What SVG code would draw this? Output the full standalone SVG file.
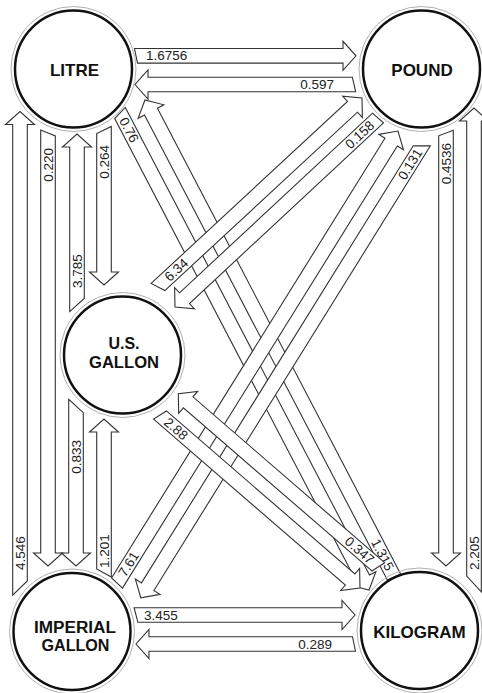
<svg xmlns="http://www.w3.org/2000/svg" width="482" height="693" viewBox="0 0 482 693">
<style>
.a{fill:#fff;stroke:#333;stroke-width:1.1;stroke-linejoin:miter}
.t{font-family:"Liberation Sans",Arial,sans-serif;font-size:13.5px;fill:#222;dominant-baseline:central}
.ring{fill:none;stroke:#b0b0b0;stroke-width:1}
.c{fill:#fff;stroke:#111;stroke-width:2.5}
.nl{font-family:"Liberation Sans",Arial,sans-serif;font-size:17px;font-weight:bold;fill:#111;text-anchor:middle}
.n2{font-size:16px}
</style>
<rect width="482" height="693" fill="#fff"/>
<g id="connectors">
<g transform="translate(136,55.8)"><polygon class="a" points="-1.5,-7.3 207,-7.3 207,-14.5 220,0 207,14.5 207,7.3 1.5,7.3"/><text class="t" x="10" y="0">1.6756</text></g>
<g transform="translate(354,84.5) rotate(180)"><polygon class="a" points="-1.7,-7.3 206,-7.3 206,-14.5 219,0 206,14.5 206,7.3 1.7,7.3"/><text class="t" transform="translate(20,0) rotate(180)" text-anchor="end">0.597</text></g>
<g transform="translate(136,615)"><polygon class="a" points="-1.9,-7.3 206,-7.3 206,-14.5 219,0 206,14.5 206,7.3 1.9,7.3"/><text class="t" transform="translate(8,0)">3.455</text></g>
<g transform="translate(354,644) rotate(180)"><polygon class="a" points="-1.5,-7.3 205,-7.3 205,-14.5 218,0 205,14.5 205,7.3 1.5,7.3"/><text class="t" transform="translate(22,0) rotate(180)" text-anchor="end">0.289</text></g>
<g transform="translate(20,588) rotate(-90)"><polygon class="a" points="-7.1,-7.3 463.5,-7.3 463.5,-14.5 476.5,0 463.5,14.5 463.5,7.3 7.1,7.3"/><text class="t" x="18" y="0">4.546</text></g>
<g transform="translate(48,133) rotate(90)"><polygon class="a" points="2.9,-7.3 420,-7.3 420,-14.5 433,0 420,14.5 420,7.3 -2.9,7.3"/><text class="t" transform="translate(15,0) rotate(180)" text-anchor="end">0.220</text></g>
<g transform="translate(77,305) rotate(-90)"><polygon class="a" points="-6.6,-7.3 158,-7.3 158,-14.5 171,0 158,14.5 158,7.3 6.6,7.3"/><text class="t" x="17" y="0">3.785</text></g>
<g transform="translate(104,130) rotate(90)"><polygon class="a" points="-3.6,-7.3 142,-7.3 142,-14.5 155,0 142,14.5 142,7.3 3.6,7.3"/><text class="t" transform="translate(15,0) rotate(180)" text-anchor="end">0.264</text></g>
<g transform="translate(76,406) rotate(90)"><polygon class="a" points="6.7,-7.3 147,-7.3 147,-14.5 160,0 147,14.5 147,7.3 -6.7,7.3"/><text class="t" transform="translate(34,0) rotate(180)" text-anchor="end">0.833</text></g>
<g transform="translate(104,573) rotate(-90)"><polygon class="a" points="4,-7.3 141,-7.3 141,-14.5 154,0 141,14.5 141,7.3 -4,7.3"/><text class="t" x="5" y="0">1.201</text></g>
<g transform="translate(446,133) rotate(90)"><polygon class="a" points="-2.8,-7.3 420,-7.3 420,-14.5 433,0 420,14.5 420,7.3 2.8,7.3"/><text class="t" transform="translate(10,0) rotate(180)" text-anchor="end">0.4536</text></g>
<g transform="translate(474,584) rotate(-90)"><polygon class="a" points="7.9,-7.3 463,-7.3 463,-14.5 476,0 463,14.5 463,7.3 -7.9,7.3"/><text class="t" x="14" y="0">2.205</text></g>
<g transform="translate(120,113) rotate(62.43)"><polygon class="a" points="-2.5,-7.3 525.1,-7.3 525.1,-14.5 538.1,0 525.1,14.5 525.1,7.3 2.5,7.3"/><text class="t" x="6" y="0">0.76</text></g>
<g transform="translate(394,577) rotate(-117.57)"><polygon class="a" points="0.3,-7.3 525.1,-7.3 525.1,-14.5 538.1,0 525.1,14.5 525.1,7.3 -0.3,7.3"/><text class="t" transform="translate(8,0) rotate(180)" text-anchor="end">1.315</text></g>
<g transform="translate(378,118) rotate(137.04)"><polygon class="a" points="-0.7,-7.3 264.4,-7.3 264.4,-14.5 277.4,0 264.4,14.5 264.4,7.3 0.7,7.3"/><text class="t" transform="translate(8,0) rotate(180)" text-anchor="end">0.158</text></g>
<g transform="translate(158,287) rotate(-42.81)"><polygon class="a" points="-2.6,-7.3 265.1,-7.3 265.1,-14.5 278.1,0 265.1,14.5 265.1,7.3 2.6,7.3"/><text class="t" x="12" y="0">6.34</text></g>
<g transform="translate(421.8,145.8) rotate(121.87)"><polygon class="a" points="-4.5,-7.3 519.2,-7.3 519.2,-14.5 532.2,0 519.2,14.5 519.2,7.3 4.5,7.3"/><text class="t" transform="translate(5,0) rotate(180)" text-anchor="end">0.131</text></g>
<g transform="translate(117,583) rotate(-58.13)"><polygon class="a" points="1.4,-7.3 519.2,-7.3 519.2,-14.5 532.2,0 519.2,14.5 519.2,7.3 -1.4,7.3"/><text class="t" x="9" y="0">7.61</text></g>
<g transform="translate(160,415) rotate(40.86)"><polygon class="a" points="2.2,-7.3 251.4,-7.3 251.4,-14.5 264.4,0 251.4,14.5 251.4,7.3 -2.2,7.3"/><text class="t" x="8" y="0">2.88</text></g>
<g transform="translate(378.3,566.8) rotate(-139.14)"><polygon class="a" points="2.1,-7.3 251.4,-7.3 251.4,-14.5 264.4,0 251.4,14.5 251.4,7.3 -2.1,7.3"/><text class="t" transform="translate(8,0) rotate(180)" text-anchor="end">0.347</text></g>
</g>
<g id="litre"><circle class="ring" cx="73.5" cy="69" r="62.5"/><circle class="c" cx="73.5" cy="69" r="58.5"/><text class="nl" x="74.5" y="75.5">LITRE</text></g>
<g id="pound"><circle class="ring" cx="421.5" cy="69" r="62.5"/><circle class="c" cx="421.5" cy="69" r="58.5"/><text class="nl" x="422" y="75.5">POUND</text></g>
<g id="us-gallon"><circle class="ring" cx="122.5" cy="355" r="62.5"/><circle class="c" cx="122.5" cy="355" r="58.5"/><text class="nl n2" x="124" y="349">U.S.</text><text class="nl n2" x="124" y="367.5" textLength="70" lengthAdjust="spacingAndGlyphs">GALLON</text></g>
<g id="imperial-gallon"><circle class="ring" cx="72" cy="631.5" r="62.5"/><circle class="c" cx="72" cy="631.5" r="58.5"/><text class="nl n2" x="75" y="632.5" textLength="82" lengthAdjust="spacingAndGlyphs">IMPERIAL</text><text class="nl n2" x="75.5" y="651" textLength="68" lengthAdjust="spacingAndGlyphs">GALLON</text></g>
<g id="kilogram"><circle class="ring" cx="419.5" cy="630.5" r="62.5"/><circle class="c" cx="419.5" cy="630.5" r="58.5"/><text class="nl" x="419.5" y="637.5">KILOGRAM</text></g>
</svg>
